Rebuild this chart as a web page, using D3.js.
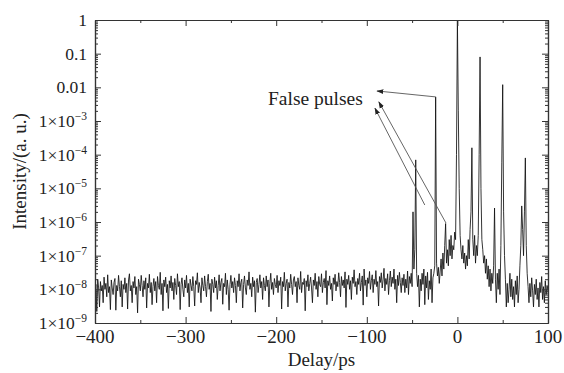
<!DOCTYPE html>
<html>
<head>
<meta charset="utf-8">
<script src="https://cdn.jsdelivr.net/npm/d3@7"></script>
<style>
  body { margin: 0; background: #fff; }
  svg text { font-family: "Liberation Serif", "Times New Roman", Times, serif; fill: #222; }
</style>
</head>
<body>
<div id="chart"></div>
<script>
// background noise, -400..-61 ps, every 1 ps
const bgDelay = d3.range(-400, -60, 1);
const bgIntensity = [
  8e-9, 1.4e-8, 2.2e-9, 2e-8, 1.1e-8, 3e-9, 1.7e-8, 9e-9, 1.3e-8, 4e-9,
  2.3e-8, 1e-8, 1.5e-8, 6e-9, 2.7e-8, 8e-9, 1.2e-8, 2.5e-9, 1.9e-8, 1.1e-8,
  7e-9, 1.6e-8, 2.1e-8, 2.4e-9, 1.3e-8, 9e-9, 2.6e-8, 1.2e-8, 6e-9, 1.8e-8,
  3e-9, 1.4e-8, 1e-8, 2.2e-8, 8e-9, 1.5e-8, 2.6e-9, 1.9e-8, 2.9e-8, 9e-9,
  1.3e-8, 4e-9, 1.7e-8, 1.1e-8, 2.4e-8, 7e-9, 1.2e-8, 2e-9, 2e-8, 1.4e-8,
  9e-9, 2.6e-8, 1.3e-8, 6e-9, 1.8e-8, 1e-8, 2.2e-8, 2.8e-9, 1.5e-8, 1.1e-8,
  2.8e-8, 8e-9, 1.6e-8, 3.5e-9, 1.2e-8, 2.1e-8, 9e-9, 1.7e-8, 4e-9, 2.4e-8,
  1.3e-8, 1e-8, 3.2e-8, 7e-9, 1.5e-8, 2.3e-9, 1.9e-8, 1.2e-8, 2.3e-8, 8e-9,
  1.4e-8, 2.7e-9, 1.8e-8, 1.1e-8, 2.5e-8, 9e-9, 1.6e-8, 5e-9, 2.1e-8, 1.3e-8,
  7e-9, 2.9e-8, 1.2e-8, 1.7e-8, 2.5e-9, 1.4e-8, 2.2e-8, 1e-8, 6e-9, 1.9e-8,
  1.1e-8, 2.6e-8, 8e-9, 1.5e-8, 3e-9, 2e-8, 1.3e-8, 9e-9, 2.4e-8, 1.2e-8,
  3.2e-9, 1.8e-8, 1.4e-8, 3.1e-8, 8e-9, 1.6e-8, 1.1e-8, 4e-9, 2.2e-8, 1.3e-8,
  9e-9, 2.5e-8, 1.2e-8, 6e-9, 1.7e-8, 2.8e-8, 1e-8, 1.5e-8, 2.2e-9, 2e-8,
  1.4e-8, 8e-9, 2.3e-8, 1.1e-8, 1.8e-8, 5e-9, 1.3e-8, 2.7e-8, 9e-9, 1.6e-8,
  2.1e-8, 3.6e-9, 1.5e-8, 1.2e-8, 3e-8, 7e-9, 1.9e-8, 1e-8, 2.4e-9, 1.4e-8,
  2.6e-8, 1.1e-8, 1.7e-8, 8e-9, 2.2e-8, 1.3e-8, 4e-9, 1.8e-8, 1.2e-8, 2.9e-8,
  9e-9, 1.6e-8, 2e-8, 2.8e-9, 1.4e-8, 2.5e-8, 1.1e-8, 7e-9, 1.9e-8, 1.3e-8,
  3.3e-8, 1e-8, 1.5e-8, 6e-9, 2.3e-8, 1.2e-8, 1.8e-8, 2.1e-9, 1.6e-8, 2.1e-8,
  8e-9, 1.4e-8, 2.7e-8, 1.1e-8, 1.7e-8, 5e-9, 2.2e-8, 1.3e-8, 9e-9, 2.5e-8,
  1.2e-8, 1.9e-8, 3e-9, 1.5e-8, 3e-8, 1e-8, 1.6e-8, 7e-9, 2.1e-8, 1.4e-8,
  1.1e-8, 2.6e-8, 8e-9, 1.8e-8, 1.3e-8, 2.3e-8, 2.6e-9, 1.7e-8, 1.2e-8, 3.2e-8,
  9e-9, 1.5e-8, 2e-8, 3e-9, 1.6e-8, 1.1e-8, 2.8e-8, 1.4e-8, 7e-9, 1.9e-8,
  2.4e-8, 1.2e-8, 1.7e-8, 4e-9, 2.2e-8, 1.3e-8, 1e-8, 3.4e-8, 8e-9, 1.6e-8,
  1.4e-8, 2.1e-8, 2.3e-9, 1.8e-8, 1.2e-8, 2.7e-8, 9e-9, 1.5e-8, 2.3e-8, 1.1e-8,
  4e-9, 1.9e-8, 1.3e-8, 3e-8, 1e-8, 1.7e-8, 6e-9, 2.4e-8, 1.4e-8, 1.2e-8,
  2.9e-8, 8e-9, 1.6e-8, 2.1e-8, 1.1e-8, 3.6e-8, 3.5e-9, 1.8e-8, 1.3e-8, 2.5e-8,
  1e-8, 1.5e-8, 4.5e-9, 2.2e-8, 1.4e-8, 2.8e-8, 9e-9, 1.7e-8, 1.2e-8, 3.1e-8,
  1.6e-8, 6e-9, 2.4e-8, 1.3e-8, 1.9e-8, 1.1e-8, 3.3e-8, 2.9e-9, 2e-8, 1.4e-8,
  2.6e-8, 1e-8, 1.8e-8, 5e-9, 2.3e-8, 1.5e-8, 3.8e-8, 1.2e-8, 1.7e-8, 7e-9,
  2.1e-8, 1.4e-8, 3e-8, 9e-9, 1.6e-8, 2.5e-8, 3.4e-9, 4e-8, 1.3e-8, 1.9e-8,
  6e-9, 2.2e-8, 1.5e-8, 3.4e-8, 1e-8, 1.8e-8, 2.7e-8, 8e-9, 2e-8, 1.4e-8,
  3.6e-8, 1.2e-8, 1.7e-8, 3.2e-9, 2.4e-8, 1.6e-8, 3.1e-8, 1.1e-8, 1.9e-8, 4.2e-8,
  9e-9, 2.1e-8, 1.4e-8, 2.9e-8, 7e-9, 1.8e-8, 3.5e-8, 1.2e-8, 2.3e-8, 1.5e-8,
  4e-8, 1e-8, 2e-8, 4e-9, 2.6e-8, 1.3e-8, 3.2e-8, 1.6e-8, 8e-9, 2.2e-8
];

// pulse region, -60..100 ps, every 1 ps
const pulseDelay = d3.range(-60, 100.5, 1);
const pulseIntensity = [
  1.3e-8, 2.8e-8, 8e-9, 2e-8, 1.1e-8, 3.5e-8, 7e-9, 2.4e-8, 1.5e-8, 3e-8,
  1.2e-8, 2e-6, 4e-8, 1.5e-7, 7e-5, 3e-8, 1.2e-8, 2.6e-8, 3e-9, 2e-8,
  9e-9, 3e-8, 1.4e-8, 4e-8, 3.5e-9, 2.5e-8, 1.1e-8, 3.2e-8, 5e-9, 1.8e-8,
  1e-8, 4e-8, 4e-9, 2.2e-8, 3e-8, 5e-8, 5.2e-3, 6e-8, 2.5e-8, 4.5e-8,
  1.5e-8, 3.5e-8, 8e-8, 2.5e-8, 1.2e-7, 4e-8, 2e-7, 9e-7, 6e-8, 1.5e-7,
  5e-8, 3e-7, 1e-7, 4e-7, 8e-8, 2e-7, 1.5e-7, 5e-7, 3e-7, 1e-4,
  1, 2e-3, 1e-5, 4e-7, 1.5e-7, 8e-8, 2e-7, 6e-8, 1.2e-7, 4e-8,
  1e-7, 5e-8, 3e-7, 8e-8, 6e-7, 2e-6, 1.6e-4, 3e-7, 1e-7, 4e-7,
  6e-8, 2e-7, 1e-7, 4e-7, 1e-4, 8e-2, 1e-5, 3e-7, 1.5e-7, 6e-8,
  1e-7, 3e-8, 8e-8, 2e-8, 5e-8, 1.2e-8, 4e-8, 9e-9, 3e-8, 1.5e-8,
  5e-8, 2.6e-6, 2e-8, 4e-9, 3e-8, 1e-8, 4e-8, 7e-9, 2e-7, 6e-5,
  1.2e-2, 2e-6, 1e-7, 2e-8, 3e-9, 1.5e-8, 4e-9, 1e-8, 3e-8, 6e-9,
  2e-8, 5e-9, 1.2e-8, 3e-9, 1.8e-8, 7e-9, 2.5e-8, 4e-9, 1e-8, 5e-8,
  2e-7, 3e-6, 6e-7, 1e-7, 2e-6, 8e-5, 2e-7, 3e-8, 1.2e-8, 4e-9,
  1.5e-8, 6e-9, 2.2e-8, 9e-9, 3e-9, 1.4e-8, 7e-9, 2e-8, 5e-9, 1.1e-8,
  3e-9, 1.6e-8, 8e-9, 2.4e-8, 5e-9, 1.2e-8, 4e-9, 1.8e-8, 7e-9, 1.3e-8, 9e-9
];

const xTicks = [-400, -300, -200, -100, 0, 100];
const xMinorTicks = [-350, -250, -150, -50, 50];
const yTicks = [1, 0.1, 0.01, 1e-3, 1e-4, 1e-5, 1e-6, 1e-7, 1e-8, 1e-9];
const yTickLabels = ['1', '0.1', '0.01', '-3', '-4', '-5', '-6', '-7', '-8', '-9'];

// annotation: arrow tail (delay, intensity) -> arrow head
const arrowTails = [[-24, 5.2e-3], [-12.6, 9.3e-7], [-36, 3.2e-6]];
const arrowHeads = [[-88.7, 7.8e-3], [-86.7, 3.7e-3], [-91, 2.4e-3]];

const W = 564, H = 373;
const m = { t: 20, r: 16, b: 50, l: 95 };
const innerW = W - m.l - m.r;
const innerH = H - m.t - m.b;

const svg = d3.select('#chart').append('svg').attr('width', W).attr('height', H);
const g = svg.append('g').attr('transform', `translate(${m.l},${m.t})`);

const x = d3.scaleLinear().domain([-400, 100]).range([0, innerW]);
const y = d3.scaleLog().domain([1e-9, 1]).range([innerH, 0]);

const yMinor = [];
for (let e = -9; e < 0; e++) {
  for (let k = 2; k <= 9; k++) yMinor.push(k * Math.pow(10, e));
}

const axisColor = '#333';
function styleAxis(sel) {
  sel.selectAll('path, line').attr('stroke', axisColor);
  sel.select('.domain').attr('stroke-width', 1.2);
  sel.selectAll('text').remove();
}

// trace
const trace = bgDelay.map((d, i) => [d, bgIntensity[i]])
  .concat(pulseDelay.map((d, i) => [d, pulseIntensity[i]]));

svg.append('clipPath').attr('id', 'clip').append('rect')
  .attr('width', innerW).attr('height', innerH);

g.append('path').datum(trace)
  .attr('clip-path', 'url(#clip)')
  .attr('fill', 'none').attr('stroke', '#111').attr('stroke-width', 0.85)
  .attr('d', d3.line().x(d => x(d[0])).y(d => y(d[1])));

g.append('g').attr('transform', `translate(0,${innerH})`)
  .call(d3.axisBottom(x).tickValues(xTicks).tickSizeInner(-6).tickSizeOuter(0)).call(styleAxis);
g.append('g').attr('transform', `translate(0,${innerH})`)
  .call(d3.axisBottom(x).tickValues(xMinorTicks).tickSizeInner(-3).tickSizeOuter(0)).call(styleAxis);
g.append('g')
  .call(d3.axisTop(x).tickValues(xTicks).tickSizeInner(-6).tickSizeOuter(0)).call(styleAxis);
g.append('g')
  .call(d3.axisTop(x).tickValues(xMinorTicks).tickSizeInner(-3).tickSizeOuter(0)).call(styleAxis);
g.append('g')
  .call(d3.axisLeft(y).tickValues(yTicks).tickSizeInner(-6).tickSizeOuter(0)).call(styleAxis);
g.append('g')
  .call(d3.axisLeft(y).tickValues(yMinor).tickSizeInner(-3).tickSizeOuter(0)).call(styleAxis);
g.append('g').attr('transform', `translate(${innerW},0)`)
  .call(d3.axisRight(y).tickValues(yTicks).tickSizeInner(-6).tickSizeOuter(0)).call(styleAxis);
g.append('g').attr('transform', `translate(${innerW},0)`)
  .call(d3.axisRight(y).tickValues(yMinor).tickSizeInner(-3).tickSizeOuter(0)).call(styleAxis);

// tick labels
g.append('g').selectAll('text').data(xTicks).enter().append('text')
  .attr('x', d => x(d)).attr('y', innerH + 20)
  .attr('text-anchor', 'middle').attr('font-size', 19)
  .text(d => d < 0 ? '\u2212' + Math.abs(d) : d);

const yl = g.append('g').selectAll('text').data(yTicks).enter().append('text')
  .attr('x', -8).attr('y', d => y(d)).attr('dy', '0.35em')
  .attr('text-anchor', 'end').attr('font-size', 17.5);
yl.each(function (d, i) {
  const t = d3.select(this);
  const lab = yTickLabels[i];
  if (lab.startsWith('-')) {
    t.append('tspan').text('1\u00d710');
    t.append('tspan').attr('font-size', 11.5).attr('dy', -7).text('\u2212' + lab.slice(1));
  } else {
    t.text(lab);
  }
});

// axis titles
svg.append('text').attr('x', m.l + innerW / 2).attr('y', 366)
  .attr('text-anchor', 'middle').attr('font-size', 19).text('Delay/ps');
svg.append('text').attr('transform', `translate(26,${m.t + innerH / 2}) rotate(-90)`)
  .attr('text-anchor', 'middle').attr('font-size', 19).text('Intensity/(a. u.)');

// annotation
svg.append('defs').append('marker')
  .attr('id', 'arr').attr('viewBox', '0 0 10 10').attr('refX', 9).attr('refY', 5)
  .attr('markerWidth', 7).attr('markerHeight', 7).attr('markerUnits', 'userSpaceOnUse')
  .attr('orient', 'auto')
  .append('path').attr('d', 'M0,1.5L10,5L0,8.5Z').attr('fill', '#222');

g.append('g').selectAll('line').data(arrowTails).enter().append('line')
  .attr('x1', d => x(d[0])).attr('y1', d => y(d[1]))
  .attr('x2', (d, i) => x(arrowHeads[i][0])).attr('y2', (d, i) => y(arrowHeads[i][1]))
  .attr('stroke', '#555').attr('stroke-width', 0.9)
  .attr('marker-end', 'url(#arr)');

svg.append('text').attr('x', 268).attr('y', 105).attr('font-size', 19.5).text('False pulses');
</script>
</body>
</html>
